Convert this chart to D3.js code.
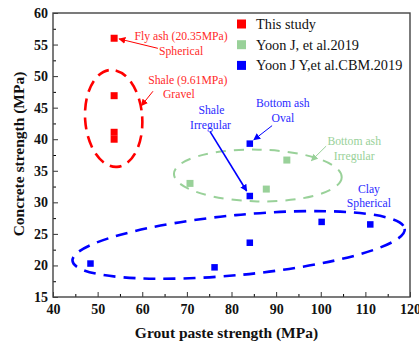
<!DOCTYPE html>
<html>
<head>
<meta charset="utf-8">
<script src="https://cdn.jsdelivr.net/npm/d3@7"></script>
<style>
  body { margin: 0; background: #fff; }
  text { font-family: "Liberation Serif", "Times New Roman", serif; }
</style>
</head>
<body>
<div id="chart"></div>
<script>
// values
const thisStudy = [[53.7, 56.0], [53.7, 46.9], [53.7, 41.1], [53.7, 40.0]];
const yoon2019 = [[70.7, 33.0], [87.8, 32.1], [92.4, 36.7]];
const yoonCBM2019 = [[84.1, 39.3], [84.1, 31.0], [84.1, 23.6], [48.4, 20.3], [76.2, 19.7], [100.2, 26.9], [111.1, 26.5]];

const seriesNames = ["This study", "Yoon J, et al.2019", "Yoon J Y,et al.CBM.2019"];
const xTicks = [40, 50, 60, 70, 80, 90, 100, 110, 120];
const yTicks = [15, 20, 25, 30, 35, 40, 45, 50, 55, 60];

// groups: center (data), half widths (data units), tilt in degrees
const groupEllipses = [
  { cx: 53.6, cy: 43.3, rx: 6.4, ry: 7.7, tilt: -4, series: 0 },
  { cx: 85.9, cy: 34.25, rx: 18.8, ry: 4.1, tilt: 1.2, series: 1 },
  { cx: 81.6, cy: 23.25, rx: 37.4, ry: 4.75, tilt: -5.5, series: 2 }
];

// labels: lines, center x, baselines (data), optional arrow from/to (data)
const notes = [
  { lines: ["Fly ash (20.35MPa)", "Spherical"], x: [68.7, 68.7], y: [55.7, 53.4], arrow: [[63.5, 54.4], [54.8, 55.9]], series: 0 },
  { lines: ["Shale (9.61MPa)", "Gravel"], x: [70.2, 68.2], y: [48.8, 46.5], arrow: [[62.4, 47.6], [59.8, 45.3]], series: 0 },
  { lines: ["Shale", "Irregular"], x: [75.5, 75.3], y: [44.0, 41.65], arrow: [[75.2, 41.2], [83.4, 31.8]], series: 2, wide: true },
  { lines: ["Bottom ash", "Oval"], x: [91.5, 91.5], y: [45.15, 42.8], arrow: [[89.1, 42.15], [85.0, 39.9]], series: 2 },
  { lines: ["Bottom ash", "Irregular"], x: [107.5, 107.5], y: [39.1, 36.75], arrow: [[101.2, 38.9], [97.9, 36.6]], series: 1 },
  { lines: ["Clay", "Spherical"], x: [110.8, 110.8], y: [31.5, 29.3], arrow: null, series: 2 }
];

const colors = ["#ff0000", "#99d199", "#0000ff"];
const textColors = ["#ff2a2a", "#99d199", "#2a2aff"];

const W = 419, H = 344;
const margin = { top: 13, left: 53, right: 9, bottom: 47 };
const width = W - margin.left - margin.right;
const height = H - margin.top - margin.bottom;

const svg = d3.select("#chart")
  .append("svg")
    .attr("width", W)
    .attr("height", H);

const g = svg.append("g")
  .attr("transform", `translate(${margin.left},${margin.top})`);

const x = d3.scaleLinear().domain([40, 120]).range([0, width]);
const y = d3.scaleLinear().domain([15, 60]).range([height, 0]);

// arrow heads
const defs = svg.append("defs");
colors.forEach((c, i) => {
  defs.append("marker")
    .attr("id", "head" + i)
    .attr("viewBox", "0 0 10 10")
    .attr("refX", 9)
    .attr("refY", 5)
    .attr("markerUnits", "userSpaceOnUse")
    .attr("markerWidth", 7)
    .attr("markerHeight", 7)
    .attr("orient", "auto")
  .append("path")
    .attr("d", "M0,0 L10,5 L0,10 z")
    .attr("fill", c);
});

// minor ticks
const minorX = d3.range(45, 120, 10);
const minorY = d3.range(17.5, 60, 5);

g.append("g")
  .attr("transform", `translate(0,${height})`)
  .call(d3.axisBottom(x).tickValues(minorX).tickSize(-3).tickFormat(""))
  .call(a => a.select(".domain").remove());
g.append("g")
  .call(d3.axisLeft(y).tickValues(minorY).tickSize(-3).tickFormat(""))
  .call(a => a.select(".domain").remove());

// major axes
const xAxis = g.append("g")
  .attr("transform", `translate(0,${height})`)
  .call(d3.axisBottom(x).tickValues(xTicks).tickSize(-5).tickPadding(7).tickFormat(d3.format("d")));
const yAxis = g.append("g")
  .call(d3.axisLeft(y).tickValues(yTicks).tickSize(-5).tickPadding(5).tickFormat(d3.format("d")));

[xAxis, yAxis].forEach(a => {
  a.selectAll("text")
    .style("font-size", "14px")
    .style("font-weight", "bold")
    .attr("fill", "#111");
  a.selectAll("line").attr("stroke", "#333");
  a.select(".domain").remove();
});

// frame
g.append("rect")
  .attr("x", 0)
  .attr("y", 0)
  .attr("width", width)
  .attr("height", height)
  .attr("fill", "none")
  .attr("stroke", "#444")
  .attr("stroke-width", 1.4);

// axis titles
svg.append("text")
  .attr("x", margin.left + width / 2 - 5)
  .attr("y", 338)
  .attr("text-anchor", "middle")
  .style("font-size", "15.5px")
  .style("font-weight", "bold")
  .attr("fill", "#111")
  .text("Grout paste strength (MPa)");

svg.append("text")
  .attr("transform", `translate(24,${154}) rotate(-90)`)
  .attr("text-anchor", "middle")
  .style("font-size", "15.5px")
  .style("font-weight", "bold")
  .attr("fill", "#111")
  .text("Concrete strength (MPa)");

// dashed group outlines
const dashes = ["12,7", "10,8", "12,8"];
const widths = [2.6, 2, 2.6];
groupEllipses.forEach(e => {
  g.append("ellipse")
    .attr("cx", 0)
    .attr("cy", 0)
    .attr("rx", x(e.cx + e.rx) - x(e.cx))
    .attr("ry", y(e.cy) - y(e.cy + e.ry))
    .attr("transform", `translate(${x(e.cx)},${y(e.cy)}) rotate(${e.tilt})`)
    .attr("fill", "none")
    .attr("stroke", colors[e.series])
    .attr("stroke-width", widths[e.series])
    .attr("stroke-dasharray", dashes[e.series]);
});

// annotations
notes.forEach(n => {
  n.lines.forEach((t, i) => {
    g.append("text")
      .attr("x", x(n.x[i]))
      .attr("y", y(n.y[i]))
      .attr("text-anchor", "middle")
      .style("font-size", "11.7px")
      .attr("fill", textColors[n.series])
      .text(t);
  });
  if (n.arrow) {
    g.append("line")
      .attr("x1", x(n.arrow[0][0]))
      .attr("y1", y(n.arrow[0][1]))
      .attr("x2", x(n.arrow[1][0]))
      .attr("y2", y(n.arrow[1][1]))
      .attr("stroke", colors[n.series])
      .attr("stroke-width", n.wide ? 1.6 : 1)
      .attr("marker-end", `url(#head${n.series})`);
  }
});

// points
const allSeries = [thisStudy, yoon2019, yoonCBM2019];
const markSize = [7, 7, 6.5];
allSeries.forEach((data, i) => {
  g.selectAll(null)
    .data(data)
    .enter()
    .append("rect")
      .attr("x", d => x(d[0]) - markSize[i] / 2)
      .attr("y", d => y(d[1]) - markSize[i] / 2)
      .attr("width", markSize[i])
      .attr("height", markSize[i])
      .attr("fill", colors[i]);
});

// legend
const legend = svg.append("g").attr("transform", "translate(237,24)");
seriesNames.forEach((name, i) => {
  legend.append("rect")
    .attr("x", 0)
    .attr("y", i * 20.7 - 4.5)
    .attr("width", 9)
    .attr("height", 9)
    .attr("fill", colors[i]);
  legend.append("text")
    .attr("x", 19)
    .attr("y", i * 20.7 + 5)
    .style("font-size", "14.3px")
    .attr("fill", "#111")
    .text(name);
});
</script>
</body>
</html>
